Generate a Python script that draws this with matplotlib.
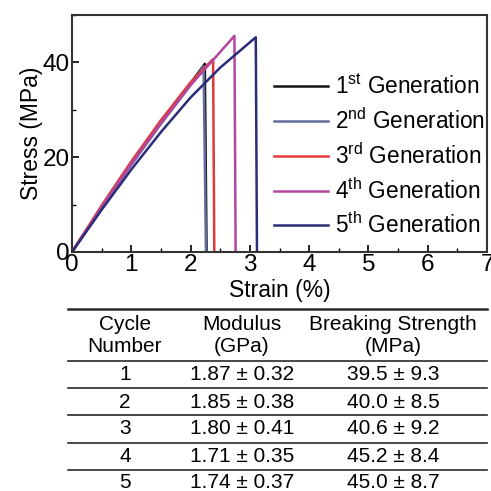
import numpy as np
import matplotlib
matplotlib.use('Agg')
import matplotlib.pyplot as plt
from matplotlib.ticker import MultipleLocator

plt.rcParams['font.family'] = ['Liberation Sans', 'DejaVu Sans']
plt.rcParams['mathtext.fontset'] = 'custom'
plt.rcParams['mathtext.rm'] = 'Liberation Sans'

# stress-strain curves (strain %, stress MPa)
gen1_strain = [0, 0.5, 1.0, 1.5, 2.0, 2.24, 2.27]
gen1_stress = [0, 9.6, 18.8, 27.4, 35.6, 39.7, 0]
gen2_strain = [0, 0.5, 1.0, 1.5, 2.0, 2.22, 2.26]
gen2_stress = [0, 9.4, 18.4, 27.0, 35.2, 39.2, 0]
gen3_strain = [0, 0.5, 1.0, 1.5, 2.0, 2.38, 2.40]
gen3_stress = [0, 9.8, 19.1, 27.8, 35.8, 40.7, 0]
gen4_strain = [0, 0.5, 1.0, 1.5, 2.0, 2.5, 2.74, 2.76]
gen4_stress = [0, 9.5, 18.6, 27.2, 35.2, 42.2, 45.6, 0]
gen5_strain = [0, 0.5, 1.0, 1.5, 2.0, 2.5, 3.10, 3.12]
gen5_stress = [0, 8.9, 17.4, 25.3, 32.6, 38.9, 45.3, 0]

labels = [r'1$^{\rm st}$ Generation', r'2$^{\rm nd}$ Generation',
          r'3$^{\rm rd}$ Generation', r'4$^{\rm th}$ Generation',
          r'5$^{\rm th}$ Generation']
colors = ['#151515', '#5f6d9c', '#e23a3a', '#b4469f', '#2b2d78']

# table
col_header_1 = ['Cycle', 'Modulus', 'Breaking Strength']
col_header_2 = ['Number', '(GPa)', '(MPa)']
cycle = ['1', '2', '3', '4', '5']
modulus = ['1.87 ± 0.32', '1.85 ± 0.38', '1.80 ± 0.41', '1.71 ± 0.35', '1.74 ± 0.37']
strength = ['39.5 ± 9.3', '40.0 ± 8.5', '40.6 ± 9.2', '45.2 ± 8.4', '45.0 ± 8.7']

W = 491
fig = plt.figure(figsize=(4.91, 4.91), dpi=100)

# table drawn in pixel coordinates of the figure
tab = fig.add_axes([0, 0, 1, 1])
tab.set_xlim(0, W)
tab.set_ylim(W, 0)
tab.axis('off')
line_y = [309, 361, 388, 415, 443, 470]
for i, y in enumerate(line_y):
    tab.plot([68, 487], [y, y], color='#2a2a2a', lw=1.8 if i == 0 else 1.2)
col_x = [125, 242, 393]
tfs = 15
for x, h1, h2 in zip(col_x, col_header_1, col_header_2):
    tab.text(x, 324, h1, ha='center', va='center', fontsize=tfs)
    tab.text(x, 347, h2, ha='center', va='center', fontsize=tfs)
row_y = [375, 402, 429, 456, 483]
for y, c, m, s in zip(row_y, cycle, modulus, strength):
    tab.text(col_x[0], y, c, ha='center', va='center', fontsize=tfs)
    tab.text(col_x[1], y, m, ha='center', va='center', fontsize=tfs)
    tab.text(col_x[2], y, s, ha='center', va='center', fontsize=tfs)

ax = fig.add_axes([72 / W, 1 - 252 / W, 415 / W, 237 / W])
curves = [(gen1_strain, gen1_stress), (gen2_strain, gen2_stress),
          (gen3_strain, gen3_stress), (gen4_strain, gen4_stress),
          (gen5_strain, gen5_stress)]
for (xs, ys), lab, col in zip(curves, labels, colors):
    ax.plot(xs, ys, color=col, lw=1.8, label=lab)

ax.set_xlim(0, 7)
ax.set_ylim(0, 50)
ax.xaxis.set_major_locator(MultipleLocator(1))
ax.xaxis.set_minor_locator(MultipleLocator(0.5))
ax.yaxis.set_major_locator(MultipleLocator(20))
ax.yaxis.set_minor_locator(MultipleLocator(10))
ax.tick_params(which='both', direction='in', labelsize=17.5, pad=1.5)
ax.tick_params(which='major', length=5, width=1.2)
ax.tick_params(which='minor', length=3, width=1)
for sp in ax.spines.values():
    sp.set_linewidth(1.5)
    sp.set_color('#333333')
ax.set_xlabel('Strain (%)', fontsize=16.5, labelpad=2)
ax.set_ylabel('Stress (MPa)', fontsize=16.5, labelpad=0)

ax.legend(loc='upper left', bbox_to_anchor=(0.465, 0.785), frameon=False,
          fontsize=16.3, handlelength=2.4, handletextpad=0.3,
          labelspacing=0.4, borderaxespad=0)

fig.savefig('out.png', dpi=100)
